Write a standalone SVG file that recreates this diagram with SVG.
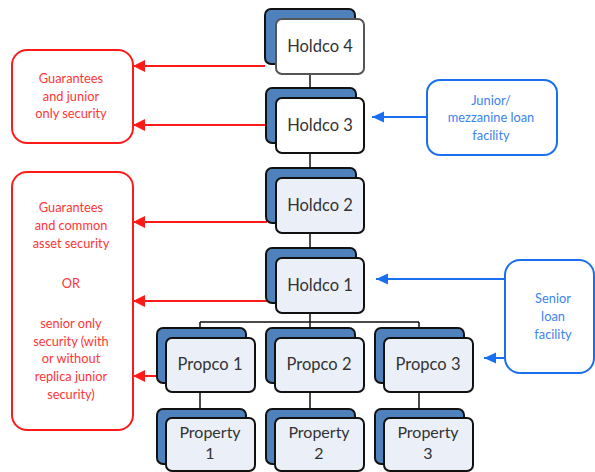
<svg xmlns="http://www.w3.org/2000/svg" width="595" height="472" viewBox="0 0 595 472">
  <defs>
    <marker id="arrowRed" markerUnits="userSpaceOnUse" markerWidth="13" markerHeight="13" refX="12" refY="6" orient="auto">
      <path d="M0,0 L12,6 L0,12 Z" fill="#FF1A1A"/>
    </marker>
    <marker id="arrowBlue" markerUnits="userSpaceOnUse" markerWidth="13" markerHeight="12" refX="12" refY="5.5" orient="auto">
      <path d="M0,0 L12,5.5 L0,11 Z" fill="#1A6FF0"/>
    </marker>
    <style>
      .back { fill: #4F81BD; stroke: #111; stroke-width: 2; }
      .front { fill: #EBF0F8; stroke: #111; stroke-width: 2; }
      .front-white { fill: #FFFFFF; stroke: #111; stroke-width: 2; }
      .label { font-family: Lato, "Liberation Sans", sans-serif; font-size: 16.5px; fill: #333; text-anchor: middle; }
      .label-sm { font-family: Lato, "Liberation Sans", sans-serif; font-size: 16px; fill: #333; text-anchor: middle; }
      .note-red { font-family: Lato, "Liberation Sans", sans-serif; font-size: 12.8px; fill: #FF3535; text-anchor: middle; }
      .note-blue { font-family: Lato, "Liberation Sans", sans-serif; font-size: 12.8px; fill: #3C82F0; text-anchor: middle; }
      .box-red { fill: #FFFFFF; stroke: #FF1A1A; stroke-width: 2; }
      .box-blue { fill: #FFFFFF; stroke: #1A6FF0; stroke-width: 2; }
      .tree { stroke: #111; stroke-width: 1.5; fill: none; }
      .red-line { stroke: #FF1A1A; stroke-width: 2; fill: none; marker-end: url(#arrowRed); }
      .blue-line { stroke: #1A6FF0; stroke-width: 2; fill: none; marker-end: url(#arrowBlue); }
    </style>
  </defs>

  <rect width="595" height="472" fill="#FFFFFF"/>

  <!-- tree connectors -->
  <g id="connectors">
    <path class="tree" d="M310,74 V88 M310,153 V168 M310,233 V248 M310,313 V322 M200,322 H419 M200,322 V328 M419,322 V328 M310,322 V328 M200,392 V409 M310,392 V409 M419,392 V409"/>
    <!-- security arrows -->
    <line class="red-line" x1="265" y1="66" x2="133" y2="66"/>
    <line class="red-line" x1="266" y1="125" x2="133" y2="125"/>
    <line class="red-line" x1="267" y1="222" x2="133" y2="222"/>
    <line class="red-line" x1="267" y1="301" x2="133" y2="301"/>
    <line class="red-line" x1="157" y1="376" x2="133" y2="376"/>
    <!-- loan facility arrows -->
    <line class="blue-line" x1="427" y1="117" x2="372" y2="117"/>
    <line class="blue-line" x1="505" y1="279" x2="376" y2="279"/>
    <line class="blue-line" x1="507" y1="358" x2="484" y2="358"/>
  </g>

  <!-- entity nodes -->
  <g id="holdco4">
    <rect class="back" x="265" y="9" width="90" height="55" rx="6"/>
    <rect class="front-white" x="276" y="19" width="88" height="55" rx="6" style="stroke:#555"/>
    <text class="label" x="320" y="52">Holdco 4</text>
  </g>
  <g id="holdco3">
    <rect class="back" x="266" y="88" width="90" height="55" rx="6"/>
    <rect class="front-white" x="276" y="98" width="88" height="55" rx="6"/>
    <text class="label" x="320" y="131">Holdco 3</text>
  </g>
  <g id="holdco2">
    <rect class="back" x="266" y="168" width="90" height="55" rx="6"/>
    <rect class="front" x="276" y="178" width="88" height="55" rx="6"/>
    <text class="label" x="320" y="211">Holdco 2</text>
  </g>
  <g id="holdco1">
    <rect class="back" x="266" y="248" width="90" height="55" rx="6"/>
    <rect class="front" x="276" y="258" width="88" height="55" rx="6"/>
    <text class="label" x="320" y="291">Holdco 1</text>
  </g>
  <g id="propco1">
    <rect class="back" x="157" y="328" width="89" height="55" rx="6"/>
    <rect class="front" x="166" y="338" width="89" height="54" rx="6"/>
    <text class="label" x="210" y="370">Propco 1</text>
  </g>
  <g id="propco2">
    <rect class="back" x="266" y="328" width="89" height="55" rx="6"/>
    <rect class="front" x="275" y="338" width="89" height="54" rx="6"/>
    <text class="label" x="319" y="370">Propco 2</text>
  </g>
  <g id="propco3">
    <rect class="back" x="375" y="328" width="89" height="55" rx="6"/>
    <rect class="front" x="384" y="338" width="89" height="54" rx="6"/>
    <text class="label" x="428" y="370">Propco 3</text>
  </g>
  <g id="property1">
    <rect class="back" x="157" y="409" width="89" height="55" rx="6"/>
    <rect class="front" x="166" y="418" width="89" height="53" rx="6"/>
    <text class="label-sm" x="210" y="438">Property</text>
    <text class="label-sm" x="210" y="459">1</text>
  </g>
  <g id="property2">
    <rect class="back" x="266" y="409" width="89" height="55" rx="6"/>
    <rect class="front" x="275" y="418" width="89" height="53" rx="6"/>
    <text class="label-sm" x="319" y="438">Property</text>
    <text class="label-sm" x="319" y="459">2</text>
  </g>
  <g id="property3">
    <rect class="back" x="375" y="409" width="89" height="55" rx="6"/>
    <rect class="front" x="384" y="418" width="89" height="53" rx="6"/>
    <text class="label-sm" x="428" y="438">Property</text>
    <text class="label-sm" x="428" y="459">3</text>
  </g>

  <!-- security notes -->
  <g id="junior-security">
    <rect class="box-red" x="12" y="50" width="121" height="93" rx="15"/>
    <text class="note-red" x="71" y="83">Guarantees</text>
    <text class="note-red" x="71" y="101">and junior</text>
    <text class="note-red" x="71" y="118">only security</text>
  </g>
  <g id="common-security">
    <rect class="box-red" x="12" y="172" width="121" height="258" rx="15"/>
    <text class="note-red" x="71" y="212">Guarantees</text>
    <text class="note-red" x="71" y="230">and common</text>
    <text class="note-red" x="71" y="248">asset security</text>
    <text class="note-red" x="71" y="288">OR</text>
    <text class="note-red" x="71" y="328">senior only</text>
    <text class="note-red" x="71" y="346">security (with</text>
    <text class="note-red" x="71" y="363">or without</text>
    <text class="note-red" x="71" y="381">replica junior</text>
    <text class="note-red" x="71" y="399">security)</text>
  </g>

  <!-- loan facilities -->
  <g id="mezzanine-facility">
    <rect class="box-blue" x="427" y="80" width="130" height="75" rx="13"/>
    <text class="note-blue" x="491" y="105">Junior/</text>
    <text class="note-blue" x="491" y="122">mezzanine loan</text>
    <text class="note-blue" x="491" y="140">facility</text>
  </g>
  <g id="senior-facility">
    <rect class="box-blue" x="505" y="260" width="89" height="113" rx="15"/>
    <text class="note-blue" x="553" y="303">Senior</text>
    <text class="note-blue" x="553" y="321">loan</text>
    <text class="note-blue" x="553" y="339">facility</text>
  </g>
</svg>
